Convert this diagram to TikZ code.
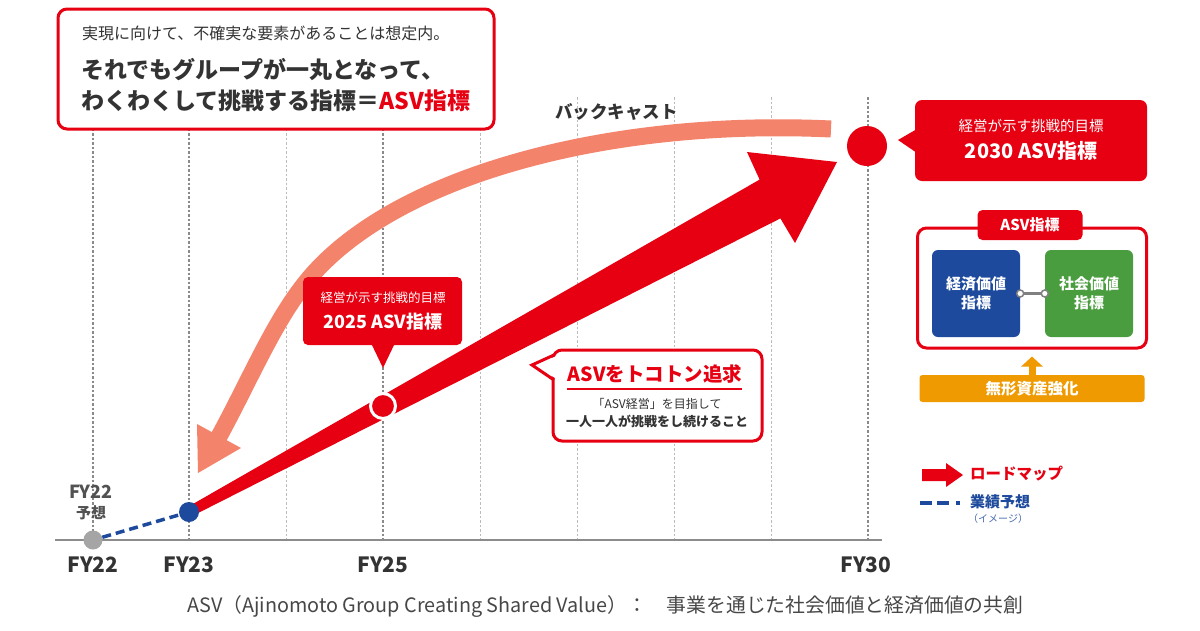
\documentclass[tikz,border=0pt]{standalone}
\usepackage{fontspec}
\setmainfont{Noto Sans CJK JP}
\usetikzlibrary{arrows.meta}
\definecolor{asvred}{HTML}{E60012}
\definecolor{salmon}{HTML}{F3836B}
\definecolor{txtc}{HTML}{333333}
\definecolor{navy}{HTML}{1D4A9C}
\definecolor{grn}{HTML}{4A9D3F}
\definecolor{orng}{HTML}{EE9A00}
\definecolor{gridlight}{HTML}{BBBBBB}
\definecolor{griddark}{HTML}{8A8A8A}
\definecolor{axisc}{HTML}{8C8C8C}
\definecolor{dotc}{HTML}{A5A5A5}
\newcommand\fsz[2]{\fontsize{#1}{#2}\selectfont}
\begin{document}
\begin{tikzpicture}[x=1pt,y=-1pt,
  lbl/.style={text=txtc, inner sep=0},
  wlbl/.style={text=white, inner sep=0},
  gridl/.style={gridlight, line width=1, dash pattern=on 2.5 off 2},
  gridd/.style={griddark, line width=1.2, dash pattern=on 2.5 off 2},
  fylbl/.style={lbl, font=\fsz{21}{24}\bfseries},
  valbox/.style={rounded corners=6, minimum width=88, minimum height=87, inner sep=0, text=white, align=center, font=\fsz{15}{19}\bfseries}
]
\useasboundingbox (0,0) rectangle (1200,630);
\fill[white] (0,0) rectangle (1200,630);

% grid lines
\foreach \x in {286,480,577,674,771} \draw[gridl] (\x,97) -- (\x,540);
\foreach \x in {93,189,383,868} \draw[gridd] (\x,97) -- (\x,540);

% axis
\draw[axisc, line width=1.8] (55,540) -- (882,540);

% back-cast salmon arc
\draw[salmon, line width=17] (831,129) .. controls (600,118) and (380,180) .. (300,290)
      .. controls (270,330) and (245,390) .. (216,442);
\fill[salmon] (197,424) -- (241,448) -- (198,473) -- cycle;

% big red roadmap arrow
\fill[asvred] (186.6,507.6) -- (759.6,179.6) -- (747,152) -- (837,162) -- (795,243)
      -- (780.4,218.4) -- (191.4,516.4) -- cycle;

% points
\node[circle, fill=dotc, minimum size=19, inner sep=0] (p22) at (93,540) {};
\node[circle, fill=navy, minimum size=20, inner sep=0] (p23) at (189,512) {};
\draw[navy, line width=3.5, dash pattern=on 9 off 5] (p22) -- (p23);
\node[circle, fill=asvred, draw=white, line width=3, minimum size=25, inner sep=0] (p25) at (383,406) {};
\node[circle, fill=asvred, minimum size=40, inner sep=0] (p30) at (867,146) {};

% axis labels
\node[fylbl] (fy22) at (93,565) {FY22};
\node[fylbl] (fy23) at (189,565) {FY23};
\node[fylbl] (fy25) at (383,565) {FY25};
\node[fylbl] (fy30) at (866,565) {FY30};
\node[lbl, text=txtc!85, font=\fsz{18}{20}\bfseries] (fc1) at (91,492) {FY22};
\node[lbl, text=txtc!85, font=\fsz{15}{18}\bfseries] (fc2) at (91,513) {予想};

% top message box
\draw[asvred, line width=3, fill=white, rounded corners=9] (58,9) rectangle (494,129);
\node[lbl, anchor=west, font=\fsz{16}{19}] (t1) at (82,33) {実現に向けて、不確実な要素があることは想定内。};
\node[lbl, anchor=west, font=\fsz{23}{27}\bfseries] (t2) at (81,70) {それでもグループが一丸となって、};
\node[lbl, anchor=west, font=\fsz{23}{27}\bfseries] (t3) at (81,101) {わくわくして挑戦する指標＝\textcolor{asvred}{ASV指標}};

% back cast label
\node[lbl, anchor=west, font=\fsz{17.5}{20}\bfseries] (bc) at (555,112) {バックキャスト};

% 2025 box
\fill[asvred, rounded corners=5] (303,277) rectangle (462,345);
\fill[asvred] (371,343) -- (395,343) -- (383,368) -- cycle;
\node[wlbl, font=\fsz{12.5}{15}] (b25a) at (383,298) {経営が示す挑戦的目標};
\node[wlbl, font=\fsz{18}{20}\bfseries] (b25b) at (383,322) {2025 ASV指標};

% 2030 box
\fill[asvred, rounded corners=7] (915,100) rectangle (1147,181);
\fill[asvred] (917,129) -- (898,140) -- (917,153) -- cycle;
\node[wlbl, font=\fsz{14.5}{17}] (b30a) at (1031,126) {経営が示す挑戦的目標};
\node[wlbl, font=\fsz{20}{22}\bfseries] (b30b) at (1031,151) {2030 ASV指標};

% pursue box
\draw[asvred, line width=3, fill=white, rounded corners=9] (553,350) rectangle (762,441);
\fill[white] (557,356) -- (532,365) -- (557,379) -- cycle;
\draw[asvred, line width=3, line join=miter] (554,355) -- (532,365) -- (554,380);
\node[lbl, text=asvred, font=\fsz{19.5}{22}\bfseries] (pu1) at (655,374) {ASVをトコトン追求};
\draw[asvred, line width=2.5] (567,389) -- (742,389);
\node[lbl, font=\fsz{12}{14}] (pu2) at (657,404) {「ASV経営」を目指して};
\node[lbl, font=\fsz{13}{15}\bfseries] (pu3) at (657,421) {一人一人が挑戦をし続けること};

% ASV indicator panel
\node[draw=asvred, line width=3, rounded corners=9, minimum width=229, minimum height=120, inner sep=0] (panel) at (1032,288) {};
\node[fill=asvred, rounded corners=5, minimum width=105, minimum height=30, inner sep=0, text=white, font=\fsz{15}{17}\bfseries] (tab) at (1030,225) {ASV指標};
\node[valbox, fill=navy] (eco) at (976,293.5) {経済価値\\指標};
\node[valbox, fill=grn] (soc) at (1089,293.5) {社会価値\\指標};
\draw[gray, line width=2.5] (eco.east) -- (soc.west);
\node[circle, draw=gray, fill=white, line width=1.5, minimum size=7, inner sep=0] (c1) at (eco.east) {};
\node[circle, draw=gray, fill=white, line width=1.5, minimum size=7, inner sep=0] (c2) at (soc.west) {};
\node[fill=orng, rounded corners=3, minimum width=225, minimum height=27, inner sep=0, text=white, font=\fsz{15.5}{17}\bfseries] (intan) at (1032,388.5) {無形資産強化};
\draw[orng, line width=7, -{Triangle[length=10,width=21]}, shorten >=7] (intan.north) -- (panel.south);

% legend
\fill[asvred] (922,469) -- (946,469) -- (946,463) -- (963,475) -- (946,487) -- (946,481) -- (922,481) -- cycle;
\node[lbl, anchor=west, text=asvred, font=\fsz{15.5}{18}\bfseries] (lg1) at (970,474) {ロードマップ};
\draw[navy, line width=4] (920,503) -- (932,503);
\draw[navy, line width=4] (937,503) -- (949,503);
\fill[navy] (956,501) rectangle (960,505);
\node[lbl, anchor=west, text=navy, font=\fsz{15}{18}\bfseries] (lg2) at (970,502) {業績予想};
\node[lbl, anchor=west, text=navy!80, font=\fsz{10}{12}] (lg3) at (968,519) {（イメージ）};

% bottom note
\node[lbl, text=txtc!90, anchor=west, font=\fsz{19.8}{22}] (note) at (187,606) {ASV（Ajinomoto Group Creating Shared Value）：　事業を通じた社会価値と経済価値の共創};
\end{tikzpicture}
\end{document}
